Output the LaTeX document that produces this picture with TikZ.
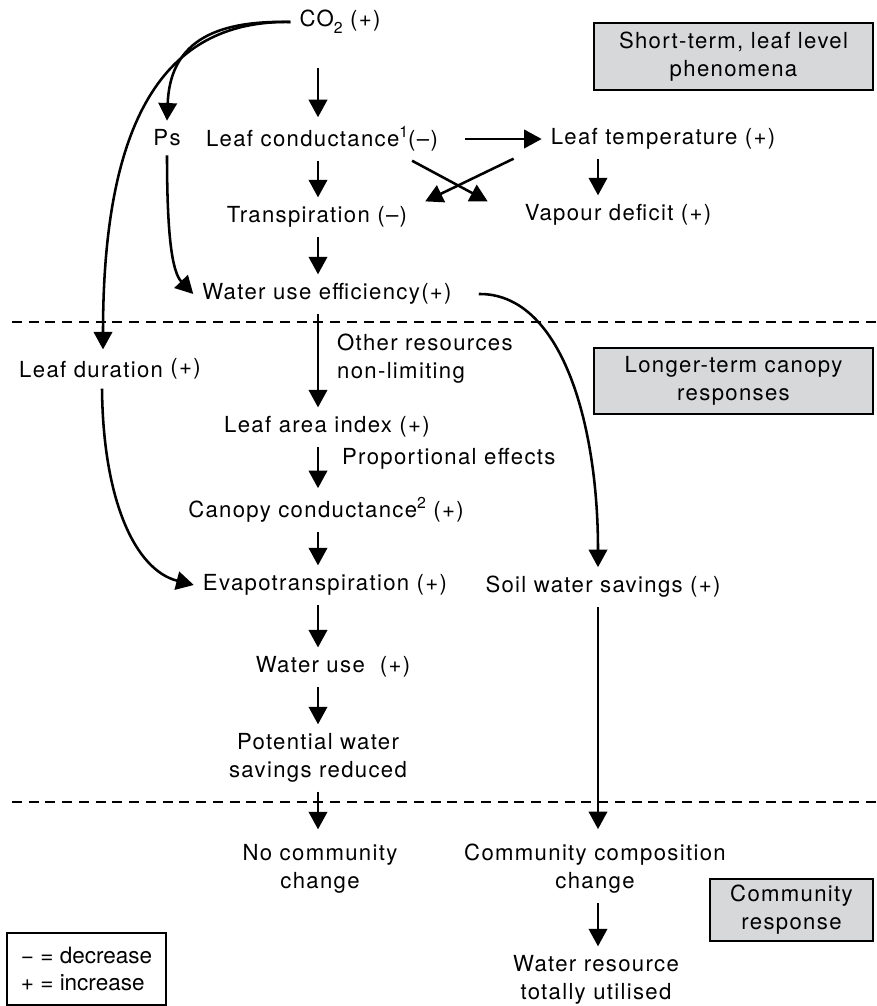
\documentclass[tikz,border=0pt]{standalone}
\usepackage{fontspec}
\setmainfont{TeX Gyre Heros}[LetterSpace=6]
\usetikzlibrary{arrows.meta}

\definecolor{boxgray}{RGB}{215,216,218}

% raised and lowered indices at a readable size
\newcommand{\supnum}[1]{\raisebox{0.42em}{\fontsize{9}{9}\selectfont #1}}
\newcommand{\subnum}[1]{\raisebox{-0.3em}{\fontsize{9}{9}\selectfont #1}}

\tikzset{
	lbl/.style={inner sep=5pt, align=center},
	arr/.style={-{Triangle[length=10pt,width=10.5pt]}, line width=1.45pt},
	phase/.style={draw, line width=1.1pt, fill=boxgray, align=center, minimum width=5.58cm, minimum height=1.33cm},
	divider/.style={line width=1.4pt, dash pattern=on 0.2cm off 0.135cm},
}

\begin{document}
\begin{tikzpicture}[x=0.02cm, y=-0.02cm, font=\fontsize{12.6}{16}\selectfont]
		\useasboundingbox (0,0) rectangle (876,1006);
		
		% Columns the straight arrows run in
		\coordinate (col) at (318,0);
		\coordinate (colR) at (598,0);
		
		% Leaf level
		\node[lbl] (co2) at (340,22) {CO\subnum{2} (+)};
		\node[lbl] (ps) at (167,138) {Ps};
		\node[lbl] (lc) at (322,139) {Leaf conductance\supnum{1}(–)};
		\node[lbl] (lt) at (663,139) {Leaf temperature (+)};
		\node[lbl] (tr) at (317,217) {Transpiration (–)};
		\node[lbl] (vd) at (618,215) {Vapour deficit (+)};
		\node[lbl] (wue) at (327,294) {Water use efficiency(+)};
		
		\draw[arr, shorten <=0.5cm] (co2.south -| col) -- (lc.north -| col);
		\draw[arr] (co2.west) .. controls (210,20) and (170,45) .. (ps.north);
		\draw[arr, shorten <=0.36cm] (lc.east) -- (lt.west);
		\draw[arr] ([xshift=-0.7cm]lc.south east) -- ([xshift=-0.56cm,yshift=-0.12cm]vd.north west);
		\draw[arr] ([xshift=-0.56cm]lt.south west) -- ([xshift=0.18cm,yshift=-0.08cm]tr.north east);
		\draw[arr] (lc.south -| col) -- (tr.north -| col);
		\draw[arr] (lt.south -| colR) -- (vd.north -| colR);
		\draw[arr] (tr.south -| col) -- (wue.north -| col);
		\draw[arr] (ps.south) .. controls (167,235) and (172,272) .. (wue.west);
		
		% Canopy level
		\node[lbl] (ld) at (110,369) {Leaf duration \raisebox{1.5pt}{(+)}};
		\node[lbl, anchor=west, align=left] (other) at (328,359) {Other resources\\non-limiting};
		\node[lbl] (lai) at (327,427) {Leaf area index (+)};
		\node[lbl, anchor=west] (prop) at (333,459) {Proportional effects};
		\node[lbl] (cc) at (326,510) {Canopy conductance\supnum{2} (+)};
		\node[lbl] (et) at (325,585) {Evapotranspiration (+)};
		\node[lbl] (sws) at (603,587) {Soil water savings (+)};
		\node[lbl] (wu) at (333,667) {Water use\ \ (+)};
		\node[lbl] (pws) at (318,758) {Potential water\\savings reduced};
		
		\draw[arr] (co2.west) .. controls (170,20) and (103,110) .. ([xshift=-0.14cm]ld.north);
		\draw[arr] (wue.south -| col) -- (lai.north -| col);
		\draw[arr] (lai.south -| col) -- (cc.north -| col);
		\draw[arr] (cc.south -| col) -- (et.north -| col);
		\draw[arr] ([xshift=-0.16cm]ld.south) .. controls (103,500) and (135,570) .. (et.west);
		\draw[arr] ([xshift=0.36cm]wue.east) .. controls (560,293) and (598,420) .. (sws.north -| colR);
		\draw[arr] (et.south -| col) -- (wu.north -| col);
		\draw[arr] (wu.south -| col) -- (pws.north -| col);
		
		% Community level
		\node[lbl] (ncc) at (320,869) {No community\\change};
		\node[lbl] (ccc) at (595,869) {Community composition\\change};
		\node[lbl] (wr) at (596,980) {Water resource\\totally utilised};
		
		\draw[arr, shorten >=0.12cm] (pws.south -| col) -- (ncc.north -| col);
		\draw[arr, shorten >=0.12cm] (sws.south -| colR) -- (ccc.north -| colR);
		\draw[arr] (ccc.south -| colR) -- (wr.north -| colR);
		
		% Dividers
		\draw[divider] (12,322) -- (876,322);
		\draw[divider] (12,802) -- (876,802);
		
		% Phase labels
		\node[phase] (short) at (733.5,56.5) {Short-term, leaf level\\phenomena};
		\node[phase] (longer) at (733.5,381) {Longer-term canopy\\responses};
		\node[phase, minimum width=3.26cm, minimum height=1.12cm] (comm) at (791.5,910) {Community\\response};
		
		% Key
		\node[draw, line width=1pt, minimum width=3.18cm, minimum height=1.44cm, align=left,
			font=\fontsize{12.8}{15}\selectfont\addfontfeature{LetterSpace=0}] (key) at (86.5,969) {− = decrease\\+ = increase};
		
	\end{tikzpicture}
\end{document}
